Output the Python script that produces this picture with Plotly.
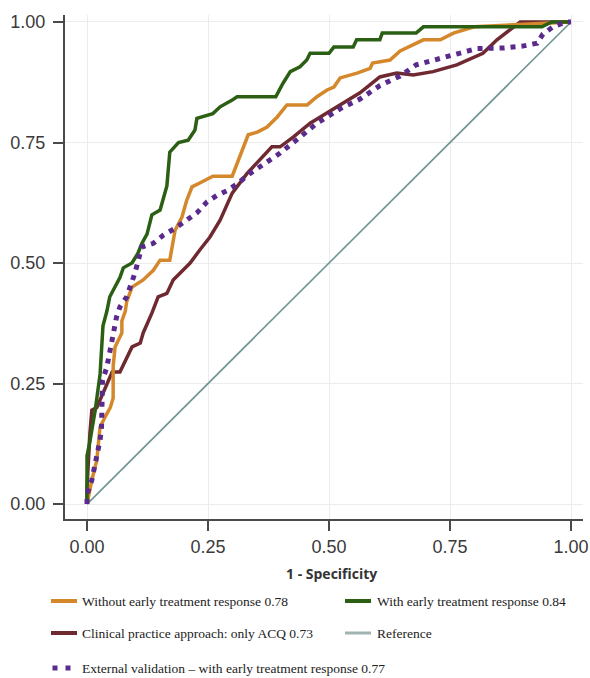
import plotly.graph_objects as go

# ---------------- data ----------------
ticks = [0.0, 0.25, 0.5, 0.75, 1.0]
tick_labels = ["0.00", "0.25", "0.50", "0.75", "1.00"]

without_x = [0, 0.01, 0.02, 0.027, 0.037, 0.048, 0.054, 0.054, 0.058, 0.072, 0.072, 0.079, 0.082, 0.093,
             0.116, 0.137, 0.151, 0.171, 0.182, 0.196, 0.206, 0.217, 0.233, 0.26, 0.30, 0.316, 0.333,
             0.353, 0.372, 0.393, 0.413, 0.455, 0.475, 0.496, 0.51, 0.523, 0.558, 0.585, 0.59, 0.626,
             0.647, 0.695, 0.73, 0.757, 0.777, 0.80, 1.0]
without_y = [0, 0.05, 0.09, 0.16, 0.18, 0.20, 0.22, 0.285, 0.326, 0.355, 0.38, 0.40, 0.42, 0.45,
             0.465, 0.485, 0.506, 0.506, 0.568, 0.595, 0.63, 0.658, 0.666, 0.68, 0.68, 0.72, 0.766,
             0.772, 0.782, 0.803, 0.828, 0.828, 0.845, 0.859, 0.865, 0.884, 0.894, 0.904, 0.915, 0.921,
             0.94, 0.963, 0.963, 0.977, 0.983, 0.99, 1.0]

with_x = [0, 0, 0.006, 0.017, 0.027, 0.033, 0.041, 0.047, 0.068, 0.075, 0.093, 0.105, 0.113, 0.124,
          0.134, 0.151, 0.165, 0.171, 0.189, 0.209, 0.223, 0.227, 0.26, 0.275, 0.30, 0.31, 0.39, 0.405,
          0.42, 0.44, 0.454, 0.461, 0.50, 0.51, 0.55, 0.557, 0.605, 0.61, 0.68, 0.695, 0.94, 0.96, 1.0]
with_y = [0, 0.10, 0.13, 0.195, 0.27, 0.37, 0.40, 0.43, 0.47, 0.49, 0.50, 0.52, 0.54, 0.56,
          0.60, 0.61, 0.66, 0.73, 0.75, 0.755, 0.776, 0.80, 0.81, 0.824, 0.838, 0.845, 0.845, 0.873,
          0.897, 0.907, 0.921, 0.935, 0.935, 0.948, 0.948, 0.963, 0.963, 0.977, 0.977, 0.99, 0.99, 1.0, 1.0]

clinical_x = [0, 0, 0.006, 0.01, 0.02, 0.027, 0.037, 0.048, 0.052, 0.068, 0.082, 0.093, 0.11, 0.116,
              0.134, 0.147, 0.165, 0.178, 0.192, 0.213, 0.233, 0.254, 0.275, 0.30, 0.33, 0.357, 0.382,
              0.399, 0.426, 0.461, 0.496, 0.529, 0.564, 0.605, 0.64, 0.674, 0.715, 0.764, 0.818, 0.847,
              0.874, 0.895, 1.0]
clinical_y = [0, 0.035, 0.147, 0.195, 0.20, 0.216, 0.24, 0.264, 0.274, 0.274, 0.305, 0.326, 0.334, 0.355,
              0.396, 0.43, 0.437, 0.465, 0.479, 0.50, 0.527, 0.554, 0.589, 0.645, 0.685, 0.715, 0.741,
              0.741, 0.761, 0.79, 0.811, 0.832, 0.853, 0.886, 0.894, 0.89, 0.897, 0.911, 0.935, 0.963,
              0.983, 1.0, 1.0]

external_x = [0, 0.0, 0.01, 0.02, 0.027, 0.03, 0.03, 0.03, 0.032, 0.041, 0.048, 0.054, 0.061, 0.068,
              0.082, 0.099, 0.113, 0.137, 0.158, 0.182, 0.206, 0.227, 0.248, 0.268, 0.289, 0.31, 0.337,
              0.378, 0.399, 0.44, 0.475, 0.523, 0.564, 0.605, 0.647, 0.68, 0.715, 0.764, 0.806, 0.86,
              0.90, 0.93, 0.942, 0.963, 0.99, 1.0]
external_y = [0, 0.02, 0.05, 0.098, 0.133, 0.16, 0.195, 0.23, 0.257, 0.284, 0.32, 0.355, 0.388, 0.409,
              0.43, 0.479, 0.533, 0.541, 0.558, 0.572, 0.589, 0.604, 0.627, 0.64, 0.65, 0.664, 0.686,
              0.714, 0.728, 0.761, 0.79, 0.82, 0.84, 0.868, 0.888, 0.911, 0.921, 0.935, 0.945, 0.946,
              0.95, 0.956, 0.975, 0.99, 1.0, 1.0]

reference_x = [0, 1]
reference_y = [0, 1]

names = ["Without early treatment response 0.78",
         "With early treatment response 0.84",
         "Clinical practice approach: only ACQ 0.73",
         "Reference",
         "External validation \u2013 with early treatment response 0.77"]

C_ORANGE = "#d4882b"
C_GREEN = "#2b6014"
C_MAROON = "#6e2a30"
C_PURPLE = "#5a2a8c"
C_REF = "#6f9590"

# ---------------- figure ----------------
W, H = 590, 678
L, R, T, B = 65, 7, 15, 159
PW, PH = W - L - R, H - T - B

fig = go.Figure()
fig.add_trace(go.Scatter(x=reference_x, y=reference_y, mode="lines",
                         line=dict(color=C_REF, width=1.6), showlegend=False))
fig.add_trace(go.Scatter(x=clinical_x, y=clinical_y, mode="lines",
                         line=dict(color=C_MAROON, width=3.5), showlegend=False))
fig.add_trace(go.Scatter(x=without_x, y=without_y, mode="lines",
                         line=dict(color=C_ORANGE, width=3.5), showlegend=False))
fig.add_trace(go.Scatter(x=with_x, y=with_y, mode="lines",
                         line=dict(color=C_GREEN, width=3.5), showlegend=False))
fig.add_trace(go.Scatter(x=external_x, y=external_y, mode="lines",
                         line=dict(color=C_PURPLE, width=5, dash="5px,6px"), showlegend=False))

axis_common = dict(
    tickvals=ticks, ticktext=tick_labels,
    showgrid=True, gridcolor="#ececec", gridwidth=1,
    zeroline=False,
    showline=True, linecolor="#4a4a4a", linewidth=2,
    ticks="outside", ticklen=10, tickwidth=2, tickcolor="#4a4a4a",
    automargin=False,
    tickfont=dict(family="Liberation Sans, Arial, sans-serif", size=18, color="#3a3a3a"),
)
fig.update_xaxes(range=[-0.0455, 1.0248], **axis_common)
fig.update_yaxes(range=[-0.031, 1.0145], ticklabelstandoff=4, **axis_common)


def px(xp):
    return (xp - L) / PW


def py(yp):
    return (H - B - yp) / PH


annotations = [dict(text="<b>1 - Specificity</b>", x=px(331), y=py(573), xref="paper", yref="paper",
                    showarrow=False, xanchor="center", yanchor="middle",
                    font=dict(family="Open Sans, Liberation Sans, sans-serif", size=14, color="#333333"))]
shapes = []

legend_items = [
    (names[0], C_ORANGE, 51, 80, 601, "line"),
    (names[1], C_GREEN, 345, 375, 601, "line"),
    (names[2], C_MAROON, 51, 80, 633, "line"),
    (names[3], "#9fb3b1", 345, 375, 633, "line"),
    (names[4], C_PURPLE, 51, 80, 668, "dots"),
]
for name, col, sx, tx, yy, kind in legend_items:
    if kind == "line":
        shapes.append(dict(type="line", xref="paper", yref="paper",
                           x0=px(sx), x1=px(sx + 26), y0=py(yy), y1=py(yy),
                           line=dict(color=col, width=4 if name != "Reference" else 3)))
    else:
        for cx in (55, 68):
            shapes.append(dict(type="rect", xref="paper", yref="paper",
                               x0=px(cx - 2.5), x1=px(cx + 2.5), y0=py(yy + 2.5), y1=py(yy - 2.5),
                               fillcolor=col, line=dict(width=0)))
    annotations.append(dict(text=name, x=px(tx), y=py(yy), xref="paper", yref="paper",
                            showarrow=False, xanchor="left", yanchor="middle",
                            font=dict(family="Liberation Serif, Times New Roman, serif", size=13.5,
                                      color="#222222")))

fig.update_layout(
    width=W, height=H,
    margin=dict(l=L, r=R, t=T, b=B, autoexpand=False),
    paper_bgcolor="white", plot_bgcolor="white",
    showlegend=False,
    annotations=annotations, shapes=shapes,
)

fig.write_html("out.html", config={"displayModeBar": False},
               post_script="document.body.style.margin='0';")
